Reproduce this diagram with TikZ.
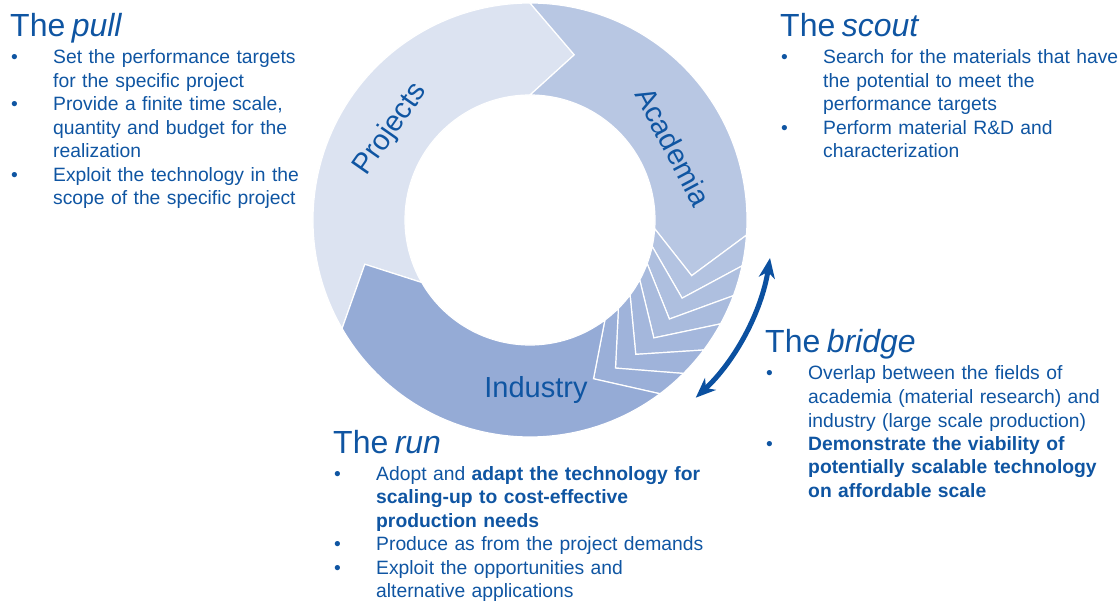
\documentclass[tikz,border=0pt]{standalone}
\usepackage{fontspec}
\setmainfont{Liberation Sans}
\usepackage{tikz}
\usetikzlibrary{arrows.meta, positioning}
\definecolor{cycblue}{HTML}{0F55A2}
\definecolor{arrowblue}{HTML}{0B50A0}
\definecolor{projfill}{HTML}{DCE3F1}
\definecolor{acadfill}{HTML}{B8C7E3}
\definecolor{indfill}{HTML}{95ABD6}

\newcommand{\ringOut}{217}
\newcommand{\ringIn}{125}
\newcommand{\ringMid}{171}
% one arrow shaped piece of the ring: tail at angle #1, head at angle #2
\newcommand{\ringpart}[3]{%
  \fill[#3, draw=white, line width=1.2pt]
    (#1:\ringOut) arc[start angle=#1, end angle=#2, radius=\ringOut]
    -- (#2-15:\ringMid) -- (#2:\ringIn)
    arc[start angle=#2, end angle=#1, radius=\ringIn]
    -- (#1-15:\ringMid) -- cycle;}
\newcommand{\blocktitle}[1]{{\fontsize{32}{36}\selectfont #1\par}\vspace{3.5pt}}
% bullet with hanging indent, lines broken with \newline
\newcommand{\bitem}[1]{\par\hangindent=43pt\hangafter=1\noindent\makebox[43pt][l]{\hspace{1pt}\textbullet}#1\par}

\begin{document}
\begin{tikzpicture}[
    x=1pt, y=1pt,
    block/.style={anchor=base west, inner sep=0pt, text width=430pt, align=left, text=cycblue, font={\fontsize{19.3}{23.5}\selectfont}},
    ringlabel/.style={text=cycblue, inner sep=0pt, font={\fontsize{29}{30}\selectfont}},
    bridgearrow/.style={{Stealth[length=20pt,width=16pt,inset=6pt]}-{Stealth[length=20pt,width=16pt,inset=6pt]}, line width=5pt, draw=arrowblue}
]
\useasboundingbox (0,0) rectangle (1119,603);

\coordinate (hub) at (530,383);

\begin{scope}[shift={(hub)}]
  \ringpart{210}{90}{projfill}
  \ringpart{90}{-4}{acadfill}
  % chevron stripes from academia to industry
  \foreach \k in {1,...,6}{
    \pgfmathsetmacro{\tailang}{-4-8.2*(\k-1)}
    \pgfmathsetmacro{\headang}{\tailang-8.2}
    \pgfmathtruncatemacro{\mixpct}{100-\k*100/7}
    \ringpart{\tailang}{\headang}{acadfill!\mixpct!indfill}
  }
  \ringpart{-53.2}{-150}{indfill}

  \node[ringlabel, rotate=55] (projects) at (147:166) {Projects};
  \node[ringlabel, rotate=-62] (academia) at (27:161) {Academia};
  \node[ringlabel] (industry) at (-88:170) {Industry};

  \coordinate (bridgetop) at (-9:243);
  \draw[bridgearrow] (bridgetop) arc[start angle=-9, end angle=-47, radius=243];
\end{scope}

\node[block] (pull) at (10,566) {\blocktitle{The \textit{pull}}
  \bitem{Set the performance targets\newline for the specific project}
  \bitem{Provide a finite time scale,\newline quantity and budget for the\newline realization}
  \bitem{Exploit the technology in the\newline scope of the specific project}};

\node[block] (scout) at (780,566) {\blocktitle{The \textit{scout}}
  \bitem{Search for the materials that have\newline the potential to meet the\newline performance targets}
  \bitem{Perform material R\&D and\newline characterization}};

\node[block] (bridge) at (765,250) {\blocktitle{The \textit{bridge}}
  \bitem{Overlap between the fields of\newline academia (material research) and\newline industry (large scale production)}
  \bitem{\textbf{Demonstrate the viability of\newline potentially scalable technology\newline on affordable scale}}};

\node[block] (run) at (333,150) {\blocktitle{The \textit{run}}
  \bitem{Adopt and \textbf{adapt the technology for\newline scaling-up to cost-effective\newline production needs}}
  \bitem{Produce as from the project demands}
  \bitem{Exploit the opportunities and\newline alternative applications}};

\end{tikzpicture}
\end{document}
